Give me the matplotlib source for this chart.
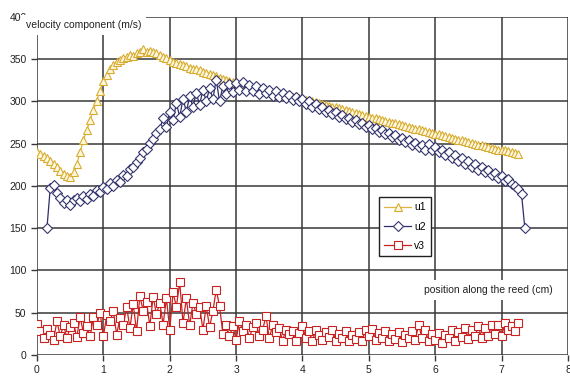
import numpy as np
import matplotlib.pyplot as plt

# u1: tangential component, 0 .. 7.25 cm every 0.05 cm
u1 = [240, 238, 236, 233, 230, 226, 222, 218, 214, 212,
      211, 216, 226, 240, 254, 266, 278, 290, 301, 313,
      324, 331, 338, 343, 347, 349, 351, 353, 355, 354,
      357, 358, 362, 359, 360, 358, 357, 355, 353, 351,
      349, 347, 346, 344, 343, 342, 340, 339, 338, 337,
      335, 334, 333, 331, 330, 328, 327, 326, 324, 323,
      322, 320, 319, 318, 317, 316, 315, 314, 313, 312,
      311, 310, 309, 308, 308, 307, 306, 305, 305, 304,
      303, 302, 301, 300, 299, 298, 297, 296, 295, 294,
      293, 292, 291, 290, 289, 287, 286, 285, 284, 283,
      282, 281, 280, 279, 278, 277, 276, 275, 274, 273,
      272, 271, 270, 269, 268, 267, 266, 265, 264, 263,
      262, 261, 260, 259, 258, 257, 256, 255, 254, 253,
      252, 251, 250, 249, 248, 247, 246, 245, 244, 243,
      243, 242, 241, 240, 239, 238]

# u2: 0.15 .. 7.35 cm every 0.05 cm
u2 = [150, 198, 201, 192, 186, 180, 184, 178, 183, 186,
      182, 188, 185, 191, 188, 195, 193, 199, 197, 203,
      200, 207, 205, 213, 212, 220, 223, 228, 233, 240,
      244, 251, 256, 263, 268, 280, 270, 287, 278, 298,
      282, 303, 288, 306, 294, 310, 296, 314, 300, 316,
      303, 326, 300, 318, 309, 321, 311, 322, 314, 323,
      313, 320, 312, 318, 309, 316, 310, 314, 307, 312,
      305, 310, 304, 308, 302, 305, 300, 303, 297, 300,
      294, 297, 291, 294, 288, 290, 285, 287, 282, 284,
      279, 281, 276, 278, 273, 275, 270, 272, 267, 269,
      264, 266, 261, 263, 258, 260, 255, 257, 252, 254,
      249, 251, 246, 249, 243, 250, 242, 246, 240, 243,
      237, 240, 233, 237, 230, 233, 226, 229, 223, 226,
      219, 222, 216, 219, 213, 215, 210, 212, 206, 208,
      202, 200, 196, 190, 150]

# v3: normal component, same positions as u1
v3 = [37, 28, 20, 31, 24, 18, 40, 22, 36, 20,
      33, 38, 21, 45, 26, 34, 22, 45, 35, 50,
      22, 47, 40, 52, 24, 44, 35, 57, 32, 60,
      28, 70, 52, 63, 34, 69, 48, 62, 36, 67,
      30, 74, 57, 86, 38, 67, 35, 62, 48, 57,
      30, 58, 33, 52, 77, 58, 25, 36, 22, 34,
      18, 40, 28, 35, 20, 33, 38, 22, 30, 46,
      20, 35, 27, 32, 17, 30, 25, 28, 16, 26,
      34, 20, 28, 16, 30, 24, 18, 27, 21, 30,
      17, 25, 20, 28, 16, 24, 19, 27, 17, 30,
      22, 31, 18, 26, 20, 28, 16, 25, 19, 27,
      15, 24, 20, 28, 18, 36, 20, 29, 16, 25,
      18, 26, 14, 24, 20, 29, 17, 27, 21, 32,
      19, 30, 23, 34, 20, 32, 22, 35, 25, 36,
      22, 38, 30, 34, 28, 38]

x1 = np.linspace(0, 7.25, len(u1))
x2 = np.linspace(0.15, 7.35, len(u2))

plt.rcParams['font.family'] = ['Liberation Sans', 'DejaVu Sans']

fig = plt.figure(figsize=(5.7, 3.76), dpi=100)
ax = fig.add_axes([0.0649, 0.0559, 0.9316, 0.8989])

ax.plot(x1, u1, '-^', color='#E0B440', lw=0.9, ms=5.2, mfc='#FFF8E0',
        mec='#D8AC30', mew=0.8, label='u1', zorder=4)
ax.plot(x2, u2, '-D', color='#2E2E6A', lw=0.9, ms=4.6, mfc='white',
        mec='#34346E', mew=0.8, label='u2', zorder=5)
ax.plot(x1, v3, '-s', color='#CC2020', lw=0.9, ms=5.2, mfc='white',
        mec='#C82222', mew=0.8, label='v3', zorder=4)

ax.set_xlim(0, 8)
ax.set_ylim(0, 400)
ax.set_xticks(range(0, 9))
ax.set_yticks(range(0, 401, 50))
ax.grid(True, color='#383838', lw=1.1)
ax.set_axisbelow(True)
for s in ax.spines.values():
    s.set_visible(False)
ax.tick_params(labelsize=7.5, length=4, width=1, color='#383838',
               labelcolor='#222222')

ax.text(-0.17, 396, 'velocity component (m/s)', fontsize=7.5, va='top',
        ha='left', color='#222222', clip_on=False, zorder=10,
        bbox=dict(facecolor='white', edgecolor='none', pad=3.5))
ax.text(6.8, 77, 'position along the reed (cm)', fontsize=7.5, va='center',
        ha='center', color='#222222', zorder=10,
        bbox=dict(facecolor='white', edgecolor='none', pad=3.5))

ax.legend(loc='upper left', bbox_to_anchor=(0.644, 0.467), borderaxespad=0,
          fontsize=7.5, fancybox=False, edgecolor='#202020', framealpha=1,
          handlelength=2.6, handletextpad=0.3, borderpad=0.5,
          labelspacing=0.9)

fig.savefig('out.png', dpi=100)
